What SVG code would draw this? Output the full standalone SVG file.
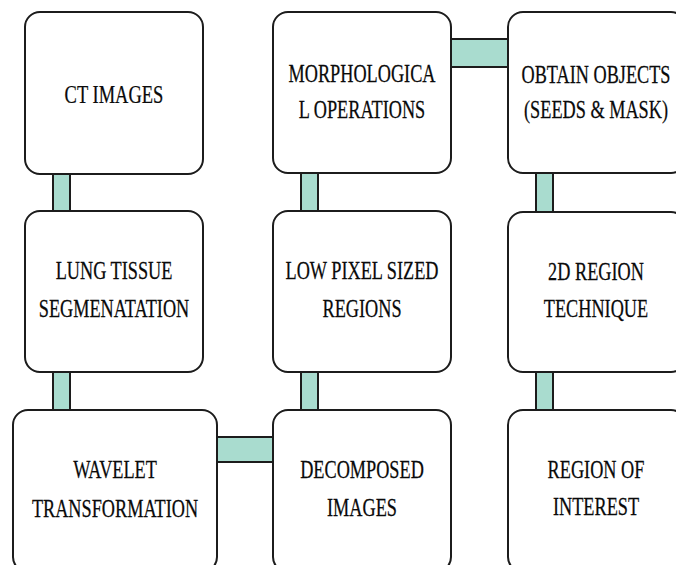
<svg xmlns="http://www.w3.org/2000/svg" width="676" height="565" viewBox="0 0 676 565">
<style>
.box{fill:#ffffff;stroke:#1c1c1c;stroke-width:2}
.bar{fill:#a9dccf;stroke:#1c1c1c;stroke-width:2}
.lbl{font-family:'Liberation Serif','Times New Roman',serif;font-size:25px;fill:#0a0a0a;stroke:#0a0a0a;stroke-width:0.25;text-anchor:middle}
</style>
<rect width="676" height="565" fill="#ffffff"/>
<g id="connectors">
<rect class="bar" x="53" y="168" width="17" height="48"/>
<rect class="bar" x="53" y="366" width="17" height="50"/>
<rect class="bar" x="301" y="168" width="17" height="48"/>
<rect class="bar" x="301" y="366" width="17" height="50"/>
<rect class="bar" x="536" y="168" width="17" height="48"/>
<rect class="bar" x="536" y="366" width="17" height="50"/>
<rect class="bar" x="445" y="39" width="69" height="28"/>
<rect class="bar" x="211" y="437" width="68" height="25"/>
</g>
<g id="n1"><rect class="box" x="25" y="12" width="178" height="162" rx="15"/>
<text class="lbl" transform="translate(114,103) scale(0.74,1)">CT IMAGES</text></g>
<g id="n2"><rect class="box" x="273" y="12" width="178" height="161" rx="15"/>
<text class="lbl" transform="translate(362,82) scale(0.73,1)">MORPHOLOGICA</text>
<text class="lbl" transform="translate(362,118) scale(0.73,1)">L OPERATIONS</text></g>
<g id="n3"><rect class="box" x="508" y="12" width="178" height="161" rx="15"/>
<text class="lbl" transform="translate(596,83) scale(0.73,1)">OBTAIN OBJECTS</text>
<text class="lbl" transform="translate(596,118) scale(0.73,1)">(SEEDS &amp; MASK)</text></g>
<g id="n4"><rect class="box" x="25" y="211" width="178" height="161" rx="15"/>
<text class="lbl" transform="translate(114,279) scale(0.73,1)">LUNG TISSUE</text>
<text class="lbl" transform="translate(114,317) scale(0.73,1)">SEGMENATATION</text></g>
<g id="n5"><rect class="box" x="273" y="211" width="178" height="161" rx="15"/>
<text class="lbl" transform="translate(362,279) scale(0.73,1)">LOW PIXEL SIZED</text>
<text class="lbl" transform="translate(362,317) scale(0.73,1)">REGIONS</text></g>
<g id="n6"><rect class="box" x="508" y="212" width="178" height="160" rx="15"/>
<text class="lbl" transform="translate(596,280) scale(0.73,1)">2D REGION</text>
<text class="lbl" transform="translate(596,317) scale(0.73,1)">TECHNIQUE</text></g>
<g id="n7"><rect class="box" x="13" y="410" width="204" height="162" rx="15"/>
<text class="lbl" transform="translate(115,478) scale(0.73,1)">WAVELET</text>
<text class="lbl" transform="translate(115,517) scale(0.73,1)">TRANSFORMATION</text></g>
<g id="n8"><rect class="box" x="273" y="410" width="178" height="162" rx="15"/>
<text class="lbl" transform="translate(362,478) scale(0.73,1)">DECOMPOSED</text>
<text class="lbl" transform="translate(362,516) scale(0.73,1)">IMAGES</text></g>
<g id="n9"><rect class="box" x="508" y="410" width="178" height="162" rx="15"/>
<text class="lbl" transform="translate(596,478) scale(0.73,1)">REGION OF</text>
<text class="lbl" transform="translate(596,515) scale(0.73,1)">INTEREST</text></g>
</svg>
